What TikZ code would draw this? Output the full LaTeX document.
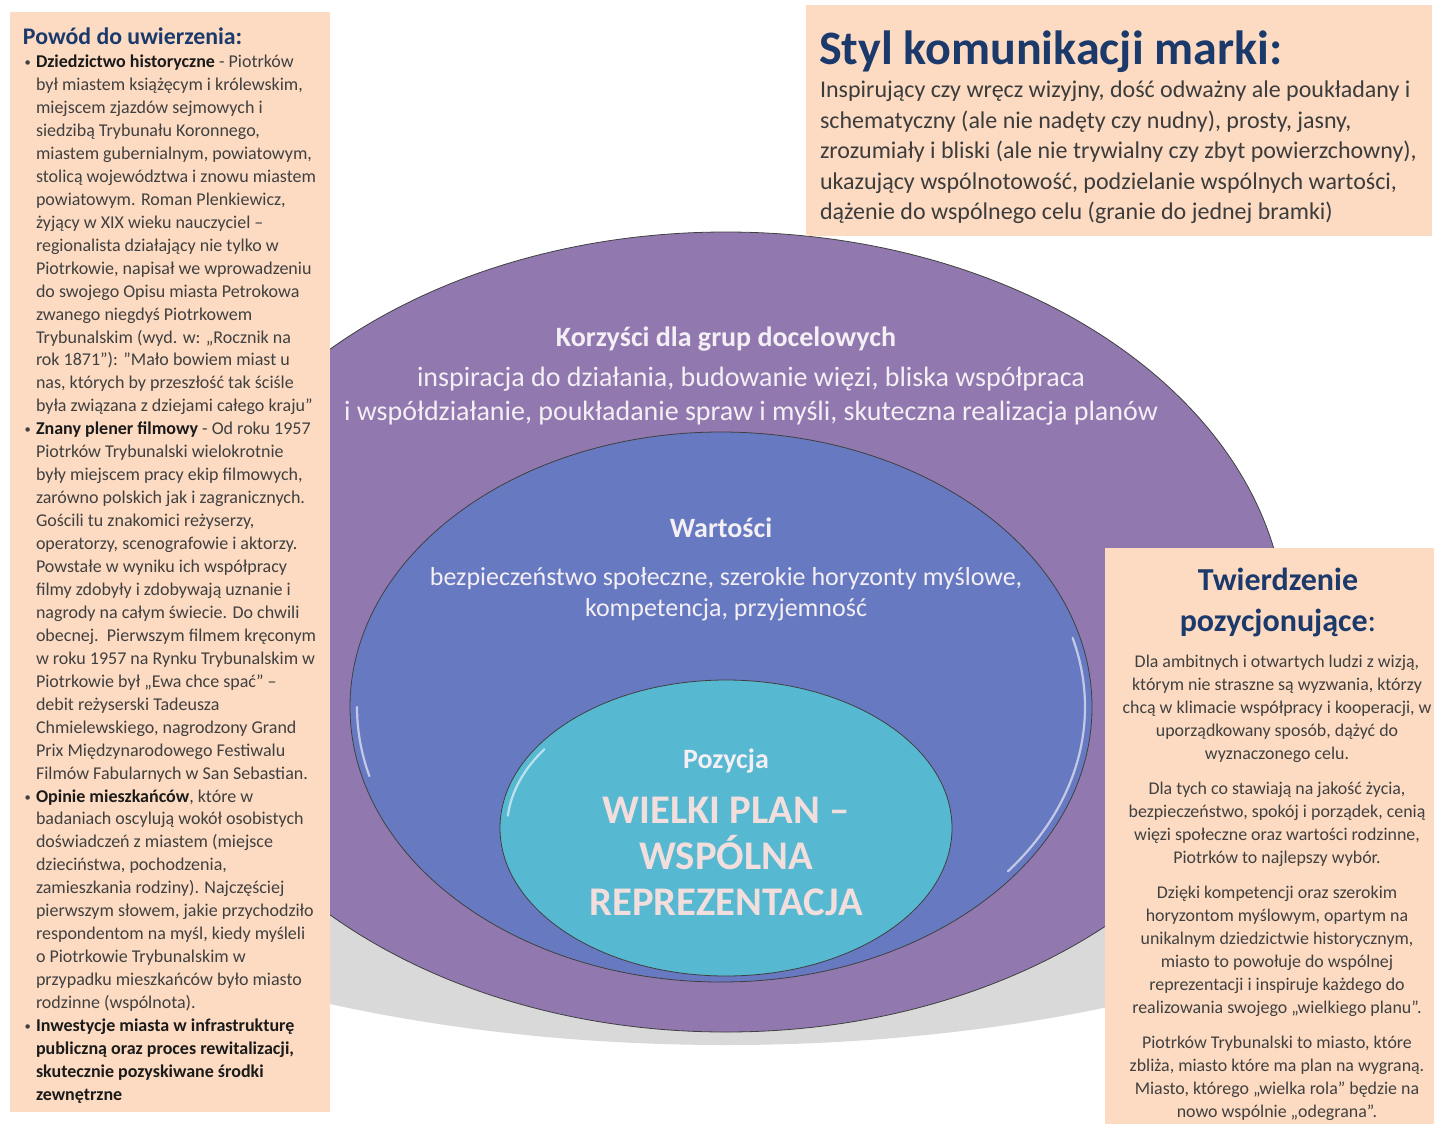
\documentclass[tikz,border=0pt]{standalone}
\usepackage{fontspec}
\setmainfont{Carlito}
\usetikzlibrary{positioning, shapes.geometric}
\definecolor{clrpanel}{HTML}{FCDBC2}
\definecolor{clrtitle}{HTML}{1B3A6B}
\definecolor{clrbody}{HTML}{404040}
\definecolor{clrkey}{HTML}{1A1A1A}
\definecolor{clrbenefit}{HTML}{9179B0}
\definecolor{clrvalue}{HTML}{6779C0}
\definecolor{clrposition}{HTML}{57B8D1}
\definecolor{clrlight}{HTML}{F4EFF4}
\definecolor{clrbig}{HTML}{F2DEDD}
\definecolor{clrshadow}{HTML}{D9D9D9}
\pgfdeclareverticalshading{reflection}{100bp}{color(0bp)=(white); color(14bp)=(clrshadow); color(100bp)=(clrshadow)}
\newcommand{\keyterm}[1]{{\bfseries\color{clrkey}#1}}
\newcommand{\itemdot}{\llap{\raisebox{1pt}{\scalebox{0.7}{\textbullet}}\hspace{5pt}}}

\begin{document}
\begin{tikzpicture}[
    x=1pt, y=-1pt,
    every node/.style={inner sep=0pt, outer sep=0pt},
    panel/.style={fill=clrpanel, anchor=north west},
    ring/.style={ellipse, draw=black!75, line width=0.8pt},
    gloss/.style={draw=white, line width=2.2pt, opacity=0.6, line cap=round},
    paneltitle/.style={font=\bfseries, text=clrtitle},
    panelbody/.style={text=clrbody, align=left},
    ringtitle/.style={font=\fontsize{28}{32}\selectfont\bfseries, text=clrlight},
    ringbody/.style={text=clrlight, align=center},
]
\useasboundingbox (0,0) rectangle (1434,1124);
% reflection under the rings
\begin{scope}
\clip (330,860) rectangle (1105,1124);
\node[ellipse, shading=reflection, minimum width=1800pt, minimum height=806pt] (e_0) at (726,642) {};
\end{scope}
% the three rings
\node[ring, fill=clrbenefit, minimum width=1120pt, minimum height=800pt] (e_1) at (726,632) {};
\node[ring, fill=clrvalue, minimum width=742pt, minimum height=550pt] (e_2) at (721,707) {};
\node[ring, fill=clrposition, minimum width=452pt, minimum height=296pt] (e_3) at (726,828) {};
\draw[gloss] (e_2.center) ++(-15:364 and 267) arc[start angle=-15, end angle=38, x radius=364, y radius=267];
\draw[gloss] (e_2.center) ++(165:364 and 267) arc[start angle=165, end angle=180, x radius=364, y radius=267];
\draw[gloss] (e_3.center) ++(185:219 and 141) arc[start angle=185, end angle=214, x radius=219, y radius=141];
\node[ringtitle] (n_1) at (726,339) {Korzyści dla grup docelowych};
\node[ringbody, font=\fontsize{28}{34}\selectfont] (n_2) at (751,396) {inspiracja do działania, budowanie więzi, bliska współpraca\\
i współdziałanie, poukładanie spraw i myśli, skuteczna realizacja planów};
\node[ringtitle] (n_3) at (721,528) {Wartości};
\node[ringbody, font=\fontsize{26}{31}\selectfont] (n_4) at (726,594) {bezpieczeństwo społeczne, szerokie horyzonty myślowe,\\
kompetencja, przyjemność};
\node[ringtitle] (n_5) at (726,761) {Pozycja};
\node[ringbody, text=clrbig, font=\fontsize{40.7}{46}\selectfont\bfseries] (n_6) at (726,856) {WIELKI PLAN –\\WSPÓLNA\\REPREZENTACJA};
% left panel
\node[panel, minimum width=320pt, minimum height=1100pt] (g_0) at (10,12) {};
\node[paneltitle, font=\fontsize{23.8}{26}\selectfont\bfseries, anchor=base west] (n_7) at (23,45) {Powód do uwierzenia:};
\node[panelbody, font=\fontsize{18}{22.95}\selectfont, anchor=north west] (n_8) at (36,55) {%
\itemdot\keyterm{Dziedzictwo historyczne} - Piotrków\\
był miastem książęcym i królewskim,\\
miejscem zjazdów sejmowych i\\
siedzibą Trybunału Koronnego,\\
miastem gubernialnym, powiatowym,\\
stolicą województwa i znowu miastem\\
powiatowym. Roman Plenkiewicz,\\
żyjący w XIX wieku nauczyciel –\\
regionalista działający nie tylko w\\
Piotrkowie, napisał we wprowadzeniu\\
do swojego Opisu miasta Petrokowa\\
zwanego niegdyś Piotrkowem\\
Trybunalskim (wyd. w: „Rocznik na\\
rok 1871”): "Mało bowiem miast u\\
nas, których by przeszłość tak ściśle\\
była związana z dziejami całego kraju”\\
\itemdot\keyterm{Znany plener filmowy} - Od roku 1957\\
Piotrków Trybunalski wielokrotnie\\
były miejscem pracy ekip filmowych,\\
zarówno polskich jak i zagranicznych.\\
Gościli tu znakomici reżyserzy,\\
operatorzy, scenografowie i aktorzy.\\
Powstałe w wyniku ich współpracy\\
filmy zdobyły i zdobywają uznanie i\\
nagrody na całym świecie. Do chwili\\
obecnej.\ \ Pierwszym filmem kręconym\\
w roku 1957 na Rynku Trybunalskim w\\
Piotrkowie był „Ewa chce spać” –\\
debit reżyserski Tadeusza\\
Chmielewskiego, nagrodzony Grand\\
Prix Międzynarodowego Festiwalu\\
Filmów Fabularnych w San Sebastian.\\
\itemdot\keyterm{Opinie mieszkańców}, które w\\
badaniach oscylują wokół osobistych\\
doświadczeń z miastem (miejsce\\
dzieciństwa, pochodzenia,\\
zamieszkania rodziny). Najczęściej\\
pierwszym słowem, jakie przychodziło\\
respondentom na myśl, kiedy myśleli\\
o Piotrkowie Trybunalskim w\\
przypadku mieszkańców było miasto\\
rodzinne (wspólnota).\\
\itemdot\keyterm{Inwestycje miasta w infrastrukturę}\\
\keyterm{publiczną oraz proces rewitalizacji,}\\
\keyterm{skutecznie pozyskiwane środki}\\
\keyterm{zewnętrzne}};
% top right panel
\node[panel, minimum width=626pt, minimum height=231pt] (g_1) at (806,5) {};
\node[paneltitle, font=\fontsize{48}{52}\selectfont\bfseries, anchor=base west] (n_9) at (819,65) {Styl komunikacji marki:};
\node[panelbody, text=clrkey!85, font=\fontsize{24}{30.5}\selectfont, anchor=north west] (n_10) at (820,81) {%
Inspirujący czy wręcz wizyjny, dość odważny ale poukładany i\\
schematyczny (ale nie nadęty czy nudny), prosty, jasny,\\
zrozumiały i bliski (ale nie trywialny czy zbyt powierzchowny),\\
ukazujący wspólnotowość, podzielanie wspólnych wartości,\\
dążenie do wspólnego celu (granie do jednej bramki)};
% bottom right panel
\node[panel, minimum width=329pt, minimum height=576pt] (g_2) at (1105,548) {};
\node[paneltitle, font=\fontsize{32}{41}\selectfont\bfseries, align=center] (n_11) at (1278,602) {Twierdzenie\\pozycjonujące{\mdseries :}};
\node[panelbody, align=center, font=\fontsize{17.9}{23}\selectfont, anchor=north] (n_12) at (1277,655) {%
Dla ambitnych i otwartych ludzi z wizją,\\
którym nie straszne są wyzwania, którzy\\
chcą w klimacie współpracy i kooperacji, w\\
uporządkowany sposób, dążyć do\\
wyznaczonego celu.\\[12pt]
Dla tych co stawiają na jakość życia,\\
bezpieczeństwo, spokój i porządek, cenią\\
więzi społeczne oraz wartości rodzinne,\\
Piotrków to najlepszy wybór.\\[12pt]
Dzięki kompetencji oraz szerokim\\
horyzontom myślowym, opartym na\\
unikalnym dziedzictwie historycznym,\\
miasto to powołuje do wspólnej\\
reprezentacji i inspiruje każdego do\\
realizowania swojego „wielkiego planu”.\\[12pt]
Piotrków Trybunalski to miasto, które\\
zbliża, miasto które ma plan na wygraną.\\
Miasto, którego „wielka rola” będzie na\\
nowo wspólnie „odegrana”.};
\end{tikzpicture}
\end{document}
